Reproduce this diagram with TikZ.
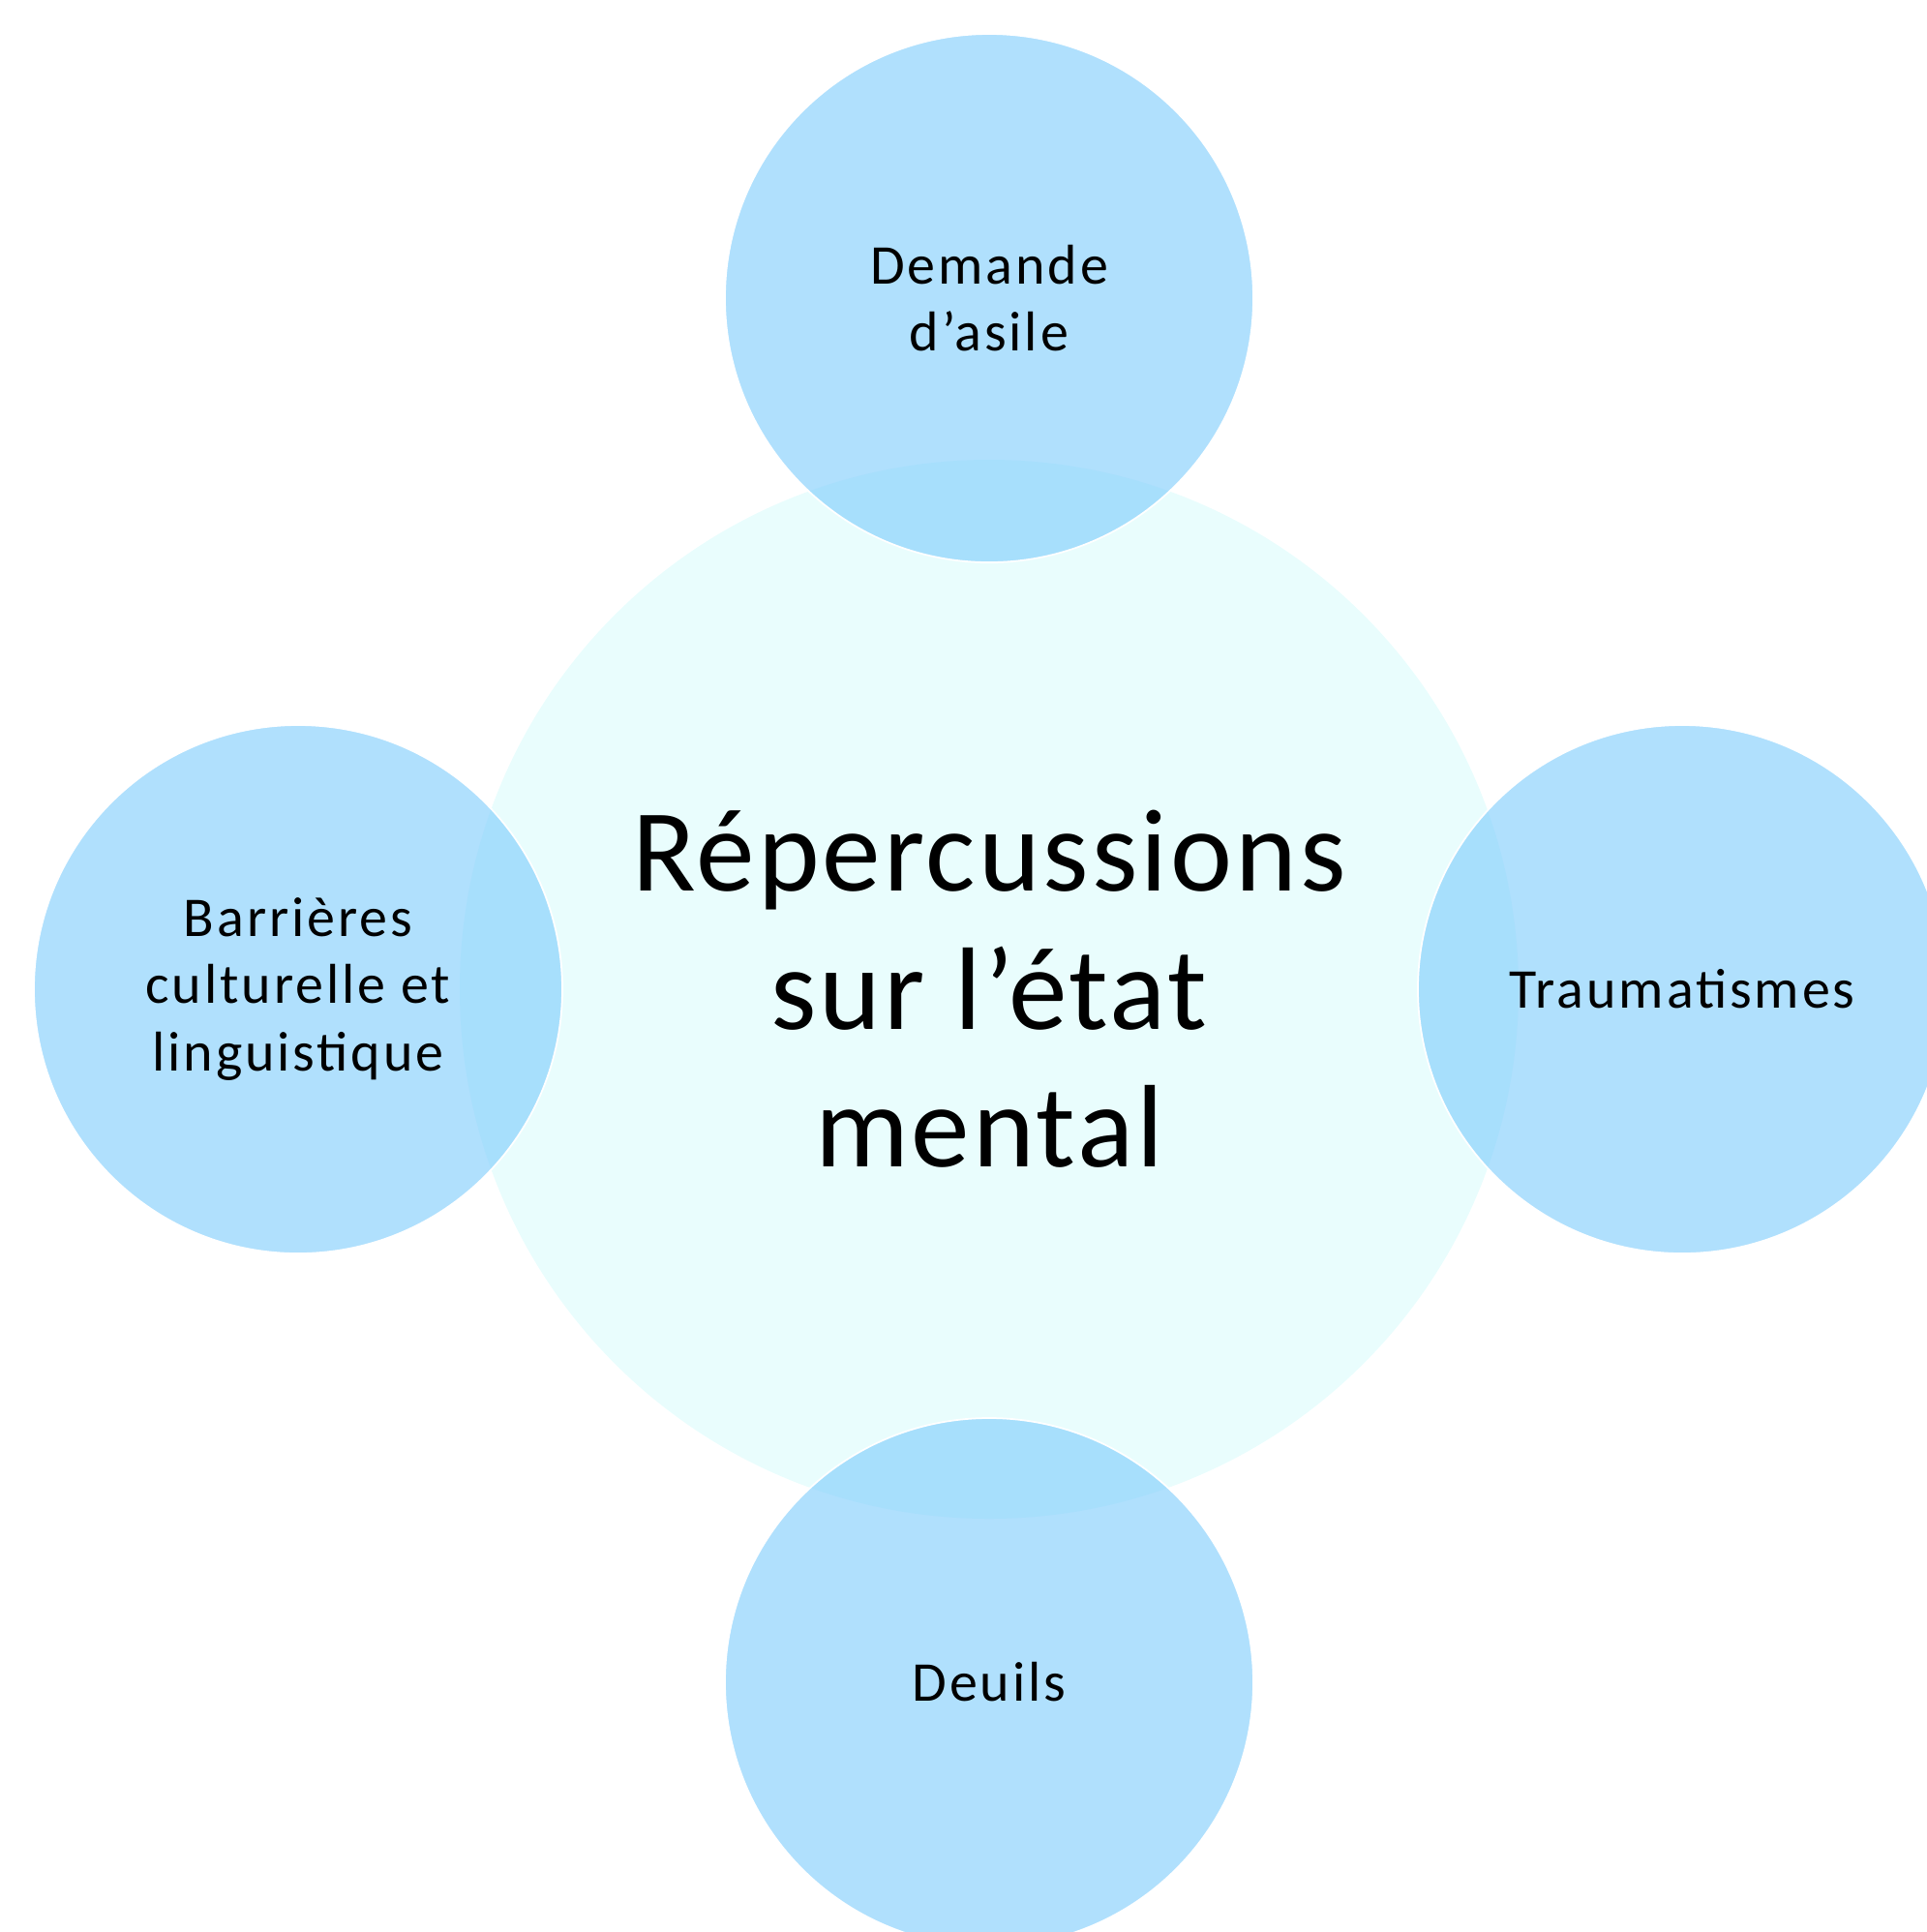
\documentclass[tikz,border=0pt]{standalone}
\usepackage{fontspec}
\setmainfont{Carlito}
\newfontfamily\bullefont[LetterSpace=5]{Carlito}
\newfontfamily\centrefont[LetterSpace=2.5]{Carlito}
\definecolor{centrefill}{RGB}{233,253,253}
\definecolor{bullefill}{RGB}{123,203,252}
\begin{document}
\begin{tikzpicture}[every node/.style={circle,inner sep=0pt,align=center,text=black},
    bulle/.style={minimum size=5.46cm,fill=bullefill,fill opacity=0.6,text opacity=1,
      draw=white,line width=0.5pt,font=\bullefont\fontsize{16.5}{19.8}\selectfont}]
  \useasboundingbox (0,0) rectangle (19.91,-19.96);
  \clip (0,0) rectangle (19.91,-19.96);
  \node (n0) at (10.22,-10.22) [minimum size=10.94cm,fill=centrefill,font=\centrefont\fontsize{34.5}{40.5}\selectfont] {Répercussions\\sur l’état\\mental};
  \node[bulle] (n1) at (10.22,-3.08) {Demande\\d’asile};
  \node[bulle] (n2) at (17.38,-10.22) {Traumatismes};
  \node[bulle] (n3) at (10.22,-17.38) {Deuils};
  \node[bulle] (n4) at (3.08,-10.22) {Barrières\\culturelle et\\linguistique};
\end{tikzpicture}
\end{document}
